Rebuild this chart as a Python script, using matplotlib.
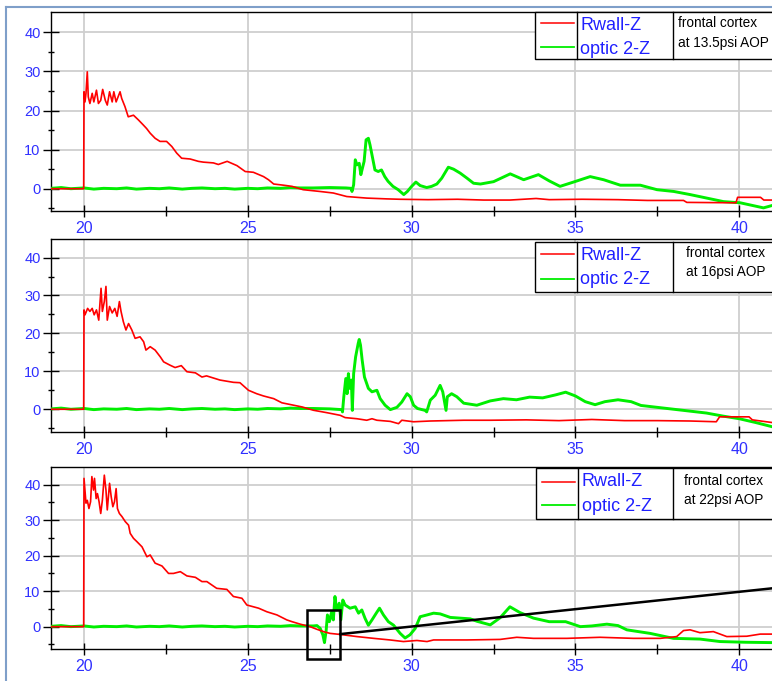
import matplotlib
matplotlib.use("Agg")
import matplotlib.pyplot as plt
from matplotlib.patches import Rectangle
from matplotlib.lines import Line2D

plt.rcParams['font.family'] = ['Liberation Sans', 'DejaVu Sans']

# ---------------- data ----------------
series_labels = ["Rwall-Z", "optic 2-Z"]
panel_notes = [["frontal cortex", "at 13.5psi AOP"],
               ["frontal cortex", "at 16psi AOP"],
               ["frontal cortex", "at 22psi AOP"]]
x_major = [20, 25, 30, 35, 40]
x_minor = [22.5, 27.5, 32.5, 37.5]
y_major = [0, 10, 20, 30, 40]
y_minor = [-5, 5, 15, 25, 35]

# baseline part of optic 2-Z (same in the three panels up to the onset)
base_x = [19.0, 19.3, 19.6, 20.0, 20.3, 20.6, 21.0, 21.3, 21.6, 22.0, 22.3, 22.6,
          23.0, 23.3, 23.6, 24.0, 24.3, 24.6, 25.0, 25.3, 25.6, 26.0, 26.3, 26.6, 27.0]
base_y = [0.1, 0.3, 0.0, 0.2, -0.1, 0.1, 0.0, 0.2, -0.1, 0.1, 0.0, 0.2,
          -0.1, 0.1, 0.2, 0.0, 0.1, -0.1, 0.1, 0.0, 0.2, 0.1, 0.3, 0.2, 0.2]

# ---- panel 1 (13.5 psi)
rwall_x_p1 = [19.0, 19.99, 20.0, 20.03, 20.06, 20.10, 20.13, 20.18, 20.25, 20.30, 20.38, 20.44,
              20.51, 20.57, 20.65, 20.71, 20.78, 20.86, 20.91, 20.98, 21.10, 21.15, 21.25, 21.35,
              21.51, 21.66, 21.81, 21.91, 22.02, 22.17, 22.32, 22.52, 22.68, 22.83, 22.98, 23.24,
              23.49, 23.64, 23.95, 24.10, 24.37, 24.67, 24.92, 25.17, 25.48, 25.63, 25.79, 26.09,
              26.35, 26.69, 27.20, 27.61, 28.02, 28.63, 29.24, 29.65, 30.5, 31.4, 32.2, 33.0,
              33.8, 34.2, 35.2, 36.3, 37.2, 38.3, 38.4, 39.9, 39.95, 40.65, 40.75, 41.0]
rwall_y_p1 = [0.0, 0.0, 24.8, 22.2, 24.4, 29.9, 23.5, 21.8, 24.4, 22.2, 25.2, 21.8,
              22.6, 25.4, 22.6, 21.4, 24.8, 22.2, 24.8, 22.2, 24.8, 23.1, 21.0, 18.4,
              18.8, 17.6, 16.3, 15.4, 14.2, 12.9, 12.1, 12.1, 10.8, 9.1, 7.8, 7.6,
              7.0, 6.8, 6.6, 6.2, 7.0, 5.9, 4.4, 4.2, 3.1, 2.3, 1.2, 0.9,
              0.6, -0.25, -0.7, -1.1, -2.0, -2.4, -2.6, -2.7, -2.8, -2.7, -2.9, -2.9,
              -2.5, -2.8, -2.7, -2.8, -3.0, -3.0, -3.5, -3.6, -2.2, -2.2, -2.9, -2.9]
optic_x_p1 = base_x + [27.5, 28.0, 28.15, 28.18, 28.23, 28.28, 28.33, 28.40, 28.45, 28.50, 28.55,
              28.61, 28.68, 28.73, 28.81, 28.88, 28.98, 29.08, 29.18, 29.28, 29.43, 29.59,
              29.76, 29.87, 30.0, 30.13, 30.26, 30.46, 30.61, 30.77, 30.92, 31.12, 31.28,
              31.48, 31.69, 31.89, 32.10, 32.50, 33.01, 33.42, 33.87, 34.20, 34.53, 34.94,
              35.45, 35.86, 36.37, 36.98, 37.49, 38.0, 38.5, 39.01, 39.52, 40.03, 40.74, 41.0]
optic_y_p1 = base_y + [0.3, 0.2, 0.1, -0.7, 1.0, 7.4, 6.1, 6.5, 3.6, 5.3, 7.0,
              12.5, 12.9, 11.2, 7.8, 4.8, 4.4, 4.8, 3.1, 1.9, 0.6, -0.25,
              -1.5, -0.7, 0.6, 1.7, 0.8, 0.3, 0.6, 1.2, 2.7, 5.5, 5.0,
              4.0, 2.7, 1.4, 1.2, 1.8, 3.8, 2.3, 3.6, 2.0, 0.6, 1.7,
              3.1, 2.3, 0.9, 0.9, -0.25, -0.7, -1.5, -2.4, -3.3, -3.6, -4.9, -4.3]

# ---- panel 2 (16 psi)
rwall_x_p2 = [19.0, 19.99, 20.0, 20.03, 20.11, 20.18, 20.25, 20.31, 20.38, 20.45, 20.52, 20.56,
              20.62, 20.67, 20.71, 20.78, 20.86, 20.94, 21.01, 21.08, 21.13, 21.20, 21.28, 21.36,
              21.46, 21.56, 21.71, 21.82, 21.89, 22.02, 22.17, 22.33, 22.43, 22.63, 22.78, 22.97,
              23.14, 23.40, 23.60, 23.74, 24.15, 24.56, 24.76, 25.02, 25.27, 25.48, 25.79, 26.04,
              26.40, 26.66, 27.0, 27.41, 27.82, 27.97, 28.33, 28.63, 28.79, 28.94, 29.35, 29.60,
              29.70, 30.06, 30.57, 31.59, 32.40, 33.5, 34.5, 35.5, 36.5, 37.5, 38.5, 39.3,
              39.4, 40.3, 40.4, 41.0]
rwall_y_p2 = [0.0, 0.0, 26.2, 24.9, 26.6, 25.8, 26.6, 24.9, 26.2, 23.5, 31.9, 25.8,
              28.4, 32.4, 23.5, 27.1, 25.4, 26.6, 24.5, 28.4, 25.8, 23.1, 20.9, 22.6,
              20.9, 18.7, 19.1, 17.8, 15.6, 16.5, 15.6, 13.8, 12.5, 11.6, 11.0, 11.5,
              9.9, 9.6, 8.5, 8.8, 7.7, 7.1, 7.0, 5.0, 4.1, 3.5, 2.8, 1.7,
              1.06, 0.6, -0.26, -0.9, -1.6, -2.2, -2.5, -2.9, -2.5, -2.9, -3.2, -3.8,
              -2.9, -3.3, -3.1, -2.9, -2.9, -2.8, -3.0, -2.7, -3.0, -3.0, -3.1, -3.3,
              -2.0, -2.0, -2.8, -3.5]
optic_x_p2 = base_x + [27.5, 27.87, 27.89, 27.93, 27.99, 28.03, 28.07, 28.11, 28.16, 28.19, 28.23,
              28.29, 28.37, 28.40, 28.44, 28.49, 28.56, 28.68, 28.79, 28.94, 29.04, 29.19,
              29.35, 29.55, 29.70, 29.86, 29.96, 30.06, 30.18, 30.41, 30.46, 30.57, 30.72,
              30.87, 30.95, 31.05, 31.09, 31.22, 31.38, 31.59, 31.99, 32.40, 32.8, 33.2,
              33.6, 34.0, 34.4, 34.7, 35.0, 35.3, 35.6, 35.9, 36.3, 36.7, 37.0, 37.5,
              38.0, 38.5, 39.0, 39.5, 40.0, 40.5, 41.0]
optic_y_p2 = base_y + [0.1, -0.1, -0.7, 3.3, 8.1, 4.1, 9.4, 5.5, 7.7, -0.3, 9.4,
              13.8, 17.4, 18.4, 16.9, 13.0, 8.5, 5.5, 4.6, 5.0, 2.8, 1.06,
              -0.1, 0.5, 1.9, 4.1, 3.3, 1.06, 0.2, -0.3, -0.7, 2.4, 3.7,
              6.3, 4.6, -0.3, 3.3, 4.1, 3.3, 1.6, 1.06, 2.2, 2.8, 2.5,
              3.2, 3.0, 3.8, 4.5, 3.5, 2.0, 1.2, 2.0, 2.5, 2.0, 1.0, 0.5,
              0.0, -0.5, -1.0, -1.8, -2.5, -3.5, -4.6]

# ---- panel 3 (22 psi)
rwall_x_p3 = [19.0, 19.99, 20.0, 20.06, 20.10, 20.15, 20.20, 20.24, 20.29, 20.32, 20.37, 20.41,
              20.46, 20.51, 20.56, 20.62, 20.67, 20.71, 20.78, 20.83, 20.88, 20.93, 20.98, 21.02,
              21.08, 21.16, 21.26, 21.36, 21.41, 21.51, 21.61, 21.77, 21.92, 22.02, 22.17, 22.38,
              22.58, 22.73, 22.94, 23.14, 23.40, 23.60, 23.75, 24.05, 24.36, 24.56, 24.82, 24.97,
              25.33, 25.58, 25.89, 26.19, 26.35, 26.60, 26.90, 27.11, 27.31, 27.51, 27.82, 28.33,
              28.84, 29.34, 29.75, 30.16, 30.47, 30.67, 31.69, 32.70, 33.21, 33.72, 34.74, 35.75,
              36.77, 37.59, 38.09, 38.30, 38.50, 38.80, 39.21, 39.62, 40.23, 40.64, 41.0]
rwall_y_p3 = [0.0, 0.0, 41.8, 34.8, 35.6, 33.3, 35.2, 42.3, 38.5, 41.8, 36.1, 37.5,
              35.2, 31.9, 35.6, 42.7, 38.5, 32.9, 40.4, 36.6, 33.8, 35.2, 38.9, 33.3,
              31.9, 31.0, 29.6, 28.6, 26.3, 24.9, 24.0, 22.5, 19.7, 20.2, 17.9, 17.1,
              15.0, 15.0, 15.5, 14.3, 13.9, 12.7, 12.7, 10.8, 10.5, 8.5, 8.0, 6.1,
              5.2, 4.2, 3.3, 1.9, 1.4, 0.7, 0.0, -0.75, -1.4, -1.9, -2.2, -2.8,
              -3.3, -3.75, -4.2, -3.9, -4.2, -3.75, -3.75, -3.6, -3.0, -3.3, -3.3, -3.0,
              -3.3, -3.3, -2.8, -1.1, -0.9, -1.7, -1.4, -2.8, -2.7, -2.1, -2.1]
optic_x_p3 = base_x + [27.11, 27.21, 27.29, 27.34, 27.39, 27.43, 27.49, 27.56, 27.61, 27.66, 27.71,
              27.79, 27.84, 27.90, 27.97, 28.12, 28.28, 28.38, 28.48, 28.58, 28.68, 28.79,
              28.92, 29.02, 29.14, 29.29, 29.45, 29.65, 29.80, 29.95, 30.11, 30.26, 30.47,
              30.67, 30.87, 31.18, 31.48, 31.79, 32.0, 32.40, 32.7, 33.0, 33.3, 33.72,
              34.2, 34.7, 35.15, 35.5, 35.96, 36.3, 36.57, 37.28, 37.99, 38.8, 39.41,
              40.2, 41.0]
optic_y_p3 = base_y + [0.3, -0.5, -2.3, -4.5, -1.2, 3.3, 1.4, 4.2, 1.9, 8.5, 4.7,
              6.6, 1.9, 7.5, 6.1, 5.2, 5.6, 3.8, 4.7, 2.3, 0.4, 1.9,
              3.8, 5.2, 3.3, 1.4, 0.4, -1.9, -3.2, -2.3, -0.5, 2.8, 3.3,
              3.8, 3.6, 2.6, 2.4, 2.2, 1.5, 0.5, 2.5, 5.6, 4.0, 2.4,
              1.4, 1.4, 0.0, 0.2, 0.7, 0.3, -0.9, -1.9, -3.3, -3.5, -4.2,
              -4.4, -4.5]

rwall_x = [rwall_x_p1, rwall_x_p2, rwall_x_p3]
rwall_y = [rwall_y_p1, rwall_y_p2, rwall_y_p3]
optic_x = [optic_x_p1, optic_x_p2, optic_x_p3]
optic_y = [optic_y_p1, optic_y_p2, optic_y_p3]

# annotation in the third panel (data units)
zoom_box = (26.82, -9.1, 27.82, 4.7)
zoom_line = ([27.82, 41.0], [-2.1, 10.8])

# ---------------- layout ----------------
W, H = 772, 681
fig = plt.figure(figsize=(W / 100, H / 100), dpi=100)
fig.patch.set_facecolor('white')

def fx(px):
    return px / W

def fy(py):
    return 1 - py / H

BLUE = '#3030ff'
LBLUE = '#2020ff'
RED = '#ff0000'
GREEN = '#00ee00'

panels = [((12, 211), (-5.7, 45.2)),
          ((239, 432), (-6.0, 44.9)),
          ((467, 649), (-6.3, 45.0))]
ax_left = 51.25

legends = [
    dict(top=12, bot=59.3, ry=23.3, gy=47.3, ly1=25, ly2=49, lx=580, nx=678, ny1=23.3, ny2=43.3, d1=577, d2=673, left=535),
    dict(top=241.7, bot=291.7, ry=254, gy=279, ly1=255, ly2=280, lx=580, nx=686, ny1=252.7, ny2=271.7, d1=577.3, d2=672.7, left=535),
    dict(top=467.7, bot=519, ry=481.7, gy=505, ly1=481.7, ly2=506.7, lx=581.7, nx=684, ny1=480.7, ny2=500, d1=578.3, d2=672.7, left=535.7),
]

for i, ((top, bot), (ylo, yhi)) in enumerate(panels):
    ax = fig.add_axes([fx(ax_left), fy(bot), 1 - fx(ax_left), (bot - top) / H])
    ax.plot(optic_x[i], optic_y[i], color=GREEN, lw=2.1, zorder=3)
    ax.plot(rwall_x[i], rwall_y[i], color=RED, lw=1.2, zorder=4)
    ax.set_xlim(19, 41)
    ax.set_ylim(ylo, yhi)
    ax.set_xticks(x_major)
    ax.set_xticks(x_minor, minor=True)
    ax.set_yticks(y_major)
    ax.set_yticks(y_minor, minor=True)
    ax.grid(True, which='major', color='#cfcfcf', lw=1.3)
    ax.set_axisbelow(True)
    ax.spines['right'].set_visible(False)
    for s in ['left', 'bottom', 'top']:
        ax.spines[s].set_linewidth(1.0)
        ax.spines[s].set_color('black')
    ax.tick_params(axis='y', which='major', direction='inout', length=11, width=1,
                   labelsize=10.5, labelcolor=BLUE, pad=2.2)
    ax.tick_params(axis='y', which='minor', direction='inout', length=5, width=1)
    ax.tick_params(axis='x', which='major', direction='inout', length=9, width=1,
                   labelsize=11.5, labelcolor=BLUE, pad=3.0)
    ax.tick_params(axis='x', which='minor', direction='inout', length=7, width=1)

    if i == 2:
        x0, y0, x1, y1 = zoom_box
        ax.add_patch(Rectangle((x0, y0), x1 - x0, y1 - y0, fill=False, ec='black',
                               lw=1.8, clip_on=False, zorder=6))
        ax.plot(zoom_line[0], zoom_line[1], color='black', lw=1.8, zorder=6)

    L = legends[i]
    fig.add_artist(Rectangle((fx(L['left']), fy(L['bot'])), fx(W + 5) - fx(L['left']),
                             (L['bot'] - L['top']) / H, transform=fig.transFigure,
                             facecolor='white', edgecolor='black', lw=1.0, zorder=5))
    for d in (L['d1'], L['d2']):
        fig.add_artist(Line2D([fx(d), fx(d)], [fy(L['top']), fy(L['bot'])],
                              transform=fig.transFigure, color='black', lw=1.0, zorder=6))
    fig.add_artist(Line2D([fx(L['left'] + 6), fx(L['d1'] - 3)], [fy(L['ry'])] * 2,
                          transform=fig.transFigure, color=RED, lw=1.1, zorder=6))
    fig.add_artist(Line2D([fx(L['left'] + 6), fx(L['d1'] - 3)], [fy(L['gy'])] * 2,
                          transform=fig.transFigure, color=GREEN, lw=1.3, zorder=6))
    fig.text(fx(L['lx']), fy(L['ly1']), series_labels[0], color=LBLUE, fontsize=13,
             ha='left', va='center', zorder=7)
    fig.text(fx(L['lx']), fy(L['ly2']), series_labels[1], color=LBLUE, fontsize=13,
             ha='left', va='center', zorder=7)
    fig.text(fx(L['nx']), fy(L['ny1']), panel_notes[i][0], color='black', fontsize=9.8,
             ha='left', va='center', zorder=7)
    fig.text(fx(L['nx']), fy(L['ny2']), panel_notes[i][1], color='black', fontsize=9.8,
             ha='left', va='center', zorder=7)

fig.add_artist(Line2D([fx(6), fx(6)], [fy(7), 0], transform=fig.transFigure,
                      color='#7f9fc9', lw=1.5))
fig.add_artist(Line2D([fx(6), 1], [fy(7), fy(7)], transform=fig.transFigure,
                      color='#7f9fc9', lw=1.5))

fig.savefig('out.png', dpi=100)
